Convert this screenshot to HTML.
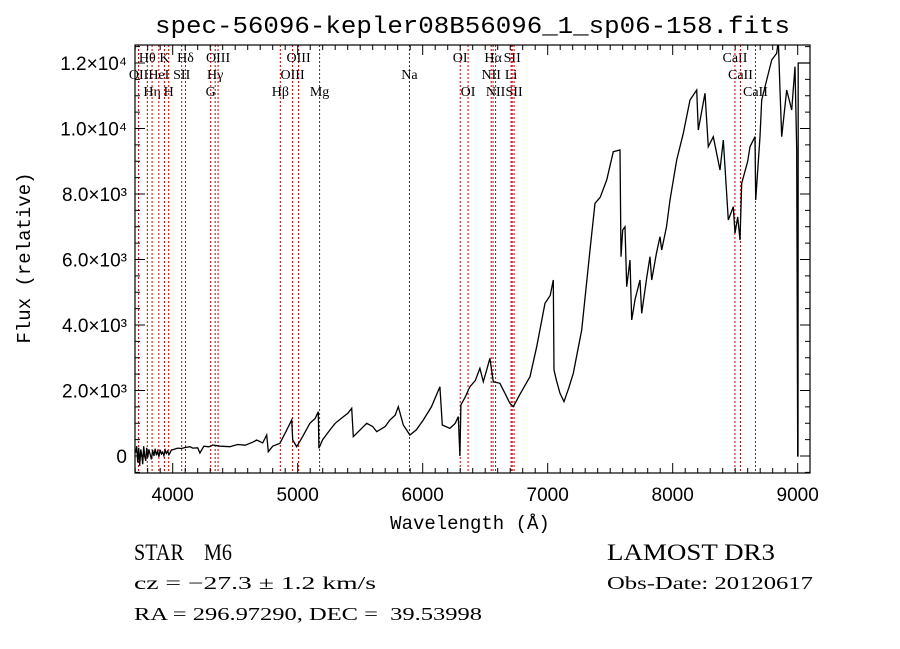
<!DOCTYPE html>
<html><head><meta charset="utf-8"><style>
html,body{margin:0;padding:0;background:#fff;}
svg{display:block;font-family:"Liberation Serif",serif;}
svg text{white-space:pre;}
</style></head><body>
<svg id="chart" width="900" height="649" viewBox="0 0 900 649" xmlns="http://www.w3.org/2000/svg">
<rect width="900" height="649" fill="#fff"/>
<text x="155" y="33" font-family="Liberation Mono, monospace" font-size="24" textLength="635" lengthAdjust="spacingAndGlyphs">spec-56096-kepler08B56096_1_sp06-158.fits</text>
<g id="lines"></g>
<g id="spec"></g>
<g id="axes"></g>
<text transform="translate(30,258) rotate(-90)" text-anchor="middle" font-family="Liberation Mono, monospace" font-size="19">Flux (relative)</text>
<text x="470" y="529" text-anchor="middle" font-family="Liberation Mono, monospace" font-size="19">Wavelength (Å)</text>
<text x="134" y="560" font-size="23" textLength="98" lengthAdjust="spacingAndGlyphs">STAR    M6</text>
<text x="607" y="560" font-size="23" textLength="168" lengthAdjust="spacingAndGlyphs">LAMOST DR3</text>
<text x="134" y="589" font-size="18" textLength="242" lengthAdjust="spacingAndGlyphs">cz = −27.3 ± 1.2 km/s</text>
<text x="607" y="589" font-size="18" textLength="206" lengthAdjust="spacingAndGlyphs">Obs-Date: 20120617</text>
<text x="134" y="620" font-size="18" textLength="348" lengthAdjust="spacingAndGlyphs">RA = 296.97290, DEC =  39.53998</text>
</svg>
<script>
const wave=[3705,3712,3720,3728,3736,3744,3752,3760,3768,3776,3784,3792,3800,3810,3820,3830,3840,3850,3860,3870,3880,3890,3900,3910,3920,3930,3940,3950,3960,3970,3978,3990,4010,4040,4070,4100,4138,4160,4200,4218,4250,4290,4322,4380,4458,4520,4580,4640,4672,4720,4752,4765,4800,4858,4900,4952,4960,4992,5040,5098,5140,5165,5170,5200,5258,5300,5365,5400,5432,5445,5500,5552,5600,5632,5700,5738,5780,5805,5845,5898,5950,6005,6070,6138,6157,6218,6260,6285,6298,6306,6340,6378,6420,6458,6485,6510,6538,6565,6618,6660,6698,6725,6780,6858,6912,6978,7020,7045,7050,7070,7098,7130,7170,7205,7272,7338,7378,7420,7472,7525,7578,7586,7600,7618,7632,7658,7672,7700,7738,7752,7790,7818,7832,7870,7898,7912,7950,7978,8032,8085,8138,8192,8205,8258,8285,8325,8378,8405,8445,8485,8498,8520,8538,8552,8600,8618,8658,8664,8698,8712,8752,8792,8832,8845,8858,8872,8912,8952,8978,8992,9000,9002,9004,9100];
const flux=[100,300,-200,250,-300,200,50,-250,300,0,-150,250,-50,200,50,-100,180,0,220,20,150,-20,190,60,120,10,180,80,150,40,92,180,200,240,230,260,285,240,250,92,300,280,336,300,285,350,330,420,489,400,641,132,300,386,700,1099,489,285,600,997,1150,1353,234,500,794,1000,1201,1300,1455,590,800,997,900,743,900,1099,1250,1506,947,641,800,1099,1500,2117,947,845,1000,1201,0,1557,1800,2117,2300,2677,2270,2600,2983,2270,2219,1900,1608,1506,1900,2422,3338,4662,4900,5374,2626,2300,1914,1659,2100,2525,3847,6290,7716,7900,8427,9292,9343,6087,6900,7000,5170,5985,4153,4800,5374,4357,5400,6087,5374,6200,6697,6290,7000,7817,9038,9852,10870,11176,9954,11074,9445,9750,8733,9648,7206,7613,6800,7300,6595,8326,9000,9445,9750,7817,9750,10870,11481,12092,12296,12700,11176,9750,11176,10565,11888,9343,0,0,12000,12000];
const lineWaves=[3727,3797,3835,3889,3934,3968,4072,4102,4304,4340,4363,4861,4959,5007,5175,5894,6300,6363,6548,6563,6583,6707,6716,6731,8498,8542,8662];
const lineLabels=["OII","Hθ","Hη","HeI","K","H","SII","Hδ","G","Hγ","OIII","Hβ","OIII","OIII","Mg","Na","OI","OI","NII","Hα","NII","Li","SII","SII","CaII","CaII","CaII"];
const lineRows=[2,1,3,2,1,3,2,1,3,2,1,3,2,1,3,2,1,3,2,1,3,2,1,3,1,2,3];
const xTicks=[4000,5000,6000,7000,8000,9000];
const yTicks=[0,2000,4000,6000,8000,10000,12000];
const yTickLabels=["0","2.0×10³","4.0×10³","6.0×10³","8.0×10³","1.0×10⁴","1.2×10⁴"];

const L=135,R=810,T=45,B=473;
const X=w=>172.7+(w-4000)*0.125;
const Y=f=>456-f*0.03275;
const NS="http://www.w3.org/2000/svg";
function mk(tag,attrs,parent){const e=document.createElementNS(NS,tag);for(const k in attrs)e.setAttribute(k,attrs[k]);parent.appendChild(e);return e;}

const cp=mk('clipPath',{id:'cp'},document.getElementById('chart'));
mk('rect',{x:L,y:T,width:R-L,height:B-T},cp);
let d='';
wave.forEach((w,i)=>{d+=(i?'L':'M')+X(w).toFixed(1)+' '+Y(flux[i]).toFixed(1);});
const sp=mk('path',{d:d,fill:'none',stroke:'#000','stroke-width':1.3,'clip-path':'url(#cp)'},document.getElementById('spec'));



const lg=document.getElementById('lines');
const rowY={1:62,2:79,3:96};
lineWaves.forEach((w,i)=>{
  const x=X(w);
  const dark=(lineLabels[i]==='Mg'||lineLabels[i]==='Na');
  const ln=mk('line',{x1:x,x2:x,y1:T,y2:B,stroke:dark?'#333':'#c00000','stroke-width':1,'stroke-dasharray':'2,2'},lg);
  
  
  const t=mk('text',{x:x,y:rowY[lineRows[i]],'text-anchor':'middle','font-size':14},lg);
  t.textContent=lineLabels[i];
  
  
});

const ax=document.getElementById('axes');
const fr=mk('rect',{x:L,y:T,width:R-L,height:B-T,fill:'none',stroke:'#000','stroke-width':1.2},ax);


for(let w=3700;w<=9100;w+=100){
  const x=X(w);if(x<L||x>R)continue;
  const maj=w%1000===0;const len=maj?10:5;
  mk('line',{x1:x,x2:x,y1:B,y2:B-len,stroke:'#000'},ax);
  mk('line',{x1:x,x2:x,y1:T,y2:T+len,stroke:'#000'},ax);
}
xTicks.forEach(w=>{
  const t=mk('text',{x:X(w),y:501,'text-anchor':'middle','font-family':'Liberation Sans, sans-serif','font-size':19},ax);
  t.textContent=w;
  
  
});
for(let f=-500;f<=12500;f+=500){
  const y=Y(f);if(y<T||y>B)continue;
  const maj=f%2000===0;const len=maj?10:5;
  mk('line',{x1:L,x2:L+len,y1:y,y2:y,stroke:'#000'},ax);
  mk('line',{x1:R,x2:R-len,y1:y,y2:y,stroke:'#000'},ax);
}
yTicks.forEach((f,i)=>{
  const t=mk('text',{x:127,y:Y(f)+7,'text-anchor':'end','font-family':'Liberation Sans, sans-serif','font-size':19},ax);
  t.textContent=yTickLabels[i];
  
  
});
</script>
</body></html>
